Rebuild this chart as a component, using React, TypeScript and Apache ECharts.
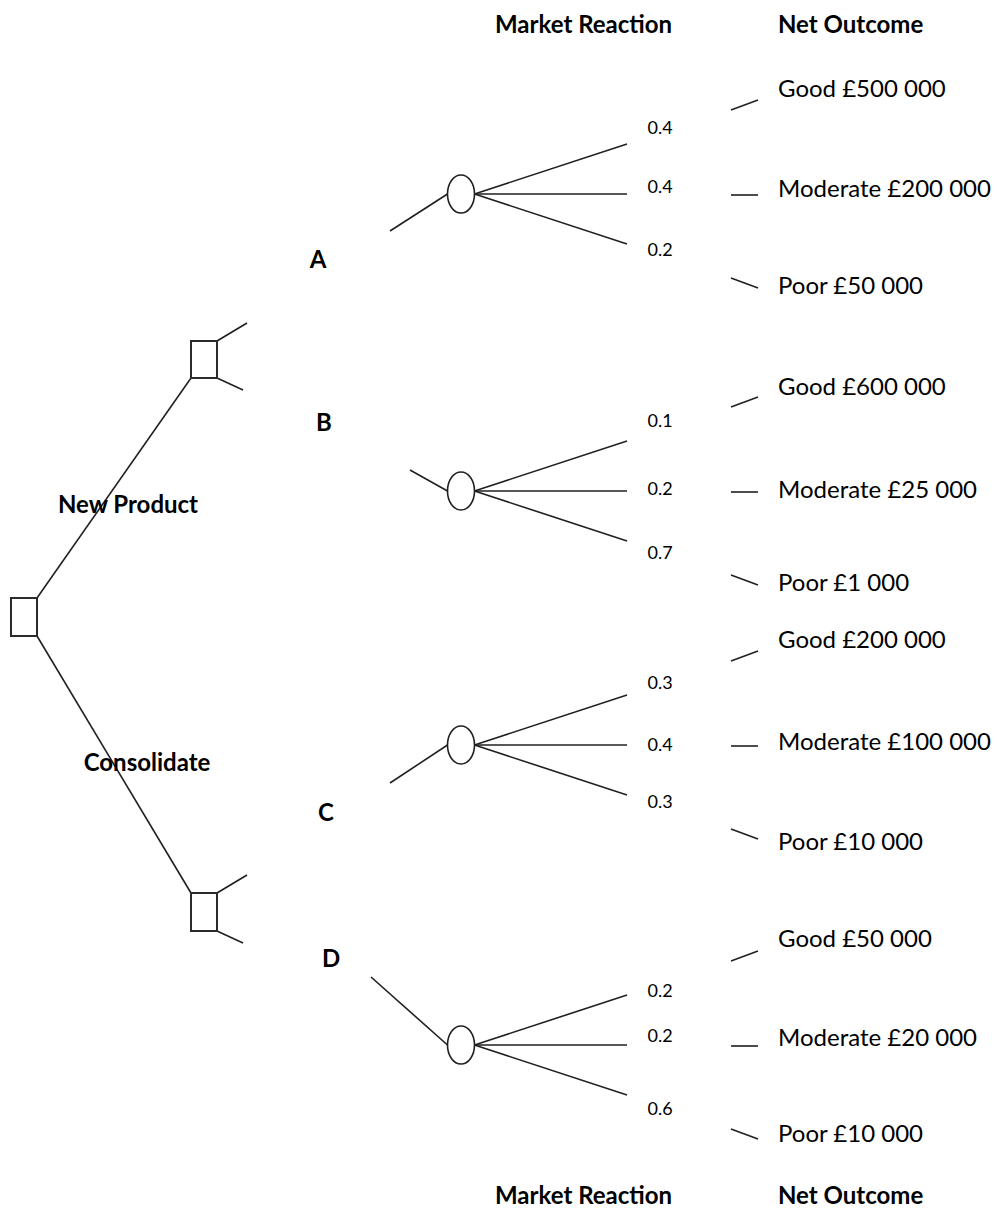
import React, { useEffect, useRef } from "react";
import * as echarts from "echarts";

// ---------------- data ----------------
const columnHeaders = ["Market Reaction", "Net Outcome"];
const decisions = ["New Product", "Consolidate"];
const options = ["A", "B", "C", "D"];
const reactions = ["Good", "Moderate", "Poor"];
const probA = [0.4, 0.4, 0.2];
const probB = [0.1, 0.2, 0.7];
const probC = [0.3, 0.4, 0.3];
const probD = [0.2, 0.2, 0.6];
const outcomeA = [500000, 200000, 50000];
const outcomeB = [600000, 25000, 1000];
const outcomeC = [200000, 100000, 10000];
const outcomeD = [50000, 20000, 10000];

const probabilities = [probA, probB, probC, probD];
const outcomes = [outcomeA, outcomeB, outcomeC, outcomeD];

// ---------------- layout (pixel-like axis units) ----------------
const W = 997;
const H = 1230;
const rootBox = [11, 598, 26, 38];
const decisionBoxes = [
  [191, 341, 26, 37],
  [191, 893, 26, 38],
];
const chanceX = 461;
const chanceRx = 13.5;
const chanceRy = 19;
const chanceY = [194, 491, 745, 1045];
const incomingStart = [
  [390, 231],
  [410, 470],
  [390, 783],
  [371, 977],
];
const branchEndX = 627;
const branchSpread = 50;
const stubX = [731, 758];
const stubOffsets = [
  [-84, -94],
  [1, 1],
  [84, 94],
];
const optionLabelPos = [
  [318, 258],
  [324, 421],
  [326, 811],
  [331, 957],
];
const decisionLabelPos = [
  [128, 503],
  [147, 761],
];
const probLabelX = 660;
const probLabelY = [
  [127, 186, 249],
  [420, 488, 552],
  [682, 744, 801],
  [990, 1035, 1108],
];
const outcomeLabelX = 778;
const outcomeLabelY = [
  [87, 187, 284],
  [385, 488, 581],
  [638, 740, 840],
  [937, 1036, 1132],
];
const headerX = [495, 778];
const headerY = [23, 1194];

const LINE = "#231f20";
const FONT = "Lato, 'Open Sans', sans-serif";

function money(v: number): string {
  const s = String(v);
  return "£" + s.replace(/\B(?=(\d{3})+(?!\d))/g, " ");
}

function buildOption() {
  // segments [x1, y1, x2, y2]
  const segs: number[][] = [];
  const [rx, ry, rw, rh] = rootBox;
  const [ux, uy, uw, uh] = decisionBoxes[0];
  const [lx, ly] = decisionBoxes[1];
  segs.push([rx + rw, ry, ux, uy + uh]);
  segs.push([rx + rw, ry + rh, lx, ly]);
  decisionBoxes.forEach(([bx, by, bw, bh]) => {
    segs.push([bx + bw, by, bx + bw + 30, by - 18]);
    segs.push([bx + bw, by + bh, bx + bw + 26, by + bh + 12]);
  });
  chanceY.forEach((cy, i) => {
    const [sx, sy] = incomingStart[i];
    segs.push([sx, sy, chanceX - chanceRx, cy]);
    for (let j = 0; j < 3; j++) {
      segs.push([chanceX + chanceRx, cy, branchEndX, cy + (j - 1) * branchSpread]);
      segs.push([stubX[0], cy + stubOffsets[j][0], stubX[1], cy + stubOffsets[j][1]]);
    }
  });

  const boxes = [rootBox, ...decisionBoxes];
  const ellipses = chanceY.map((cy) => [chanceX, cy]);

  type T = { x: number; y: number; text: string; font: string; align: string };
  const texts: T[] = [];
  columnHeaders.forEach((h, i) => {
    headerY.forEach((y) => texts.push({ x: headerX[i], y, text: h, font: `bold 24px ${FONT}`, align: "left" }));
  });
  decisions.forEach((d, i) =>
    texts.push({ x: decisionLabelPos[i][0], y: decisionLabelPos[i][1], text: d, font: `bold 24px ${FONT}`, align: "center" })
  );
  options.forEach((o, i) => {
    texts.push({ x: optionLabelPos[i][0], y: optionLabelPos[i][1], text: o, font: `bold 24px ${FONT}`, align: "center" });
    probabilities[i].forEach((p, j) =>
      texts.push({ x: probLabelX, y: probLabelY[i][j], text: p.toFixed(1), font: `18px ${FONT}`, align: "center" })
    );
    outcomes[i].forEach((v, j) =>
      texts.push({
        x: outcomeLabelX,
        y: outcomeLabelY[i][j],
        text: `${reactions[j]} ${money(v)}`,
        font: `24px ${FONT}`,
        align: "left",
      })
    );
  });

  return {
    animation: false,
    backgroundColor: "#ffffff",
    grid: { left: 0, right: 0, top: 0, bottom: 0 },
    xAxis: { type: "value", min: 0, max: W, show: false },
    yAxis: { type: "value", min: 0, max: H, inverse: true, show: false },
    series: [
      {
        type: "custom",
        silent: true,
        data: segs,
        encode: { x: [0, 2], y: [1, 3] },
        renderItem: (_p: any, api: any) => {
          const a = api.coord([api.value(0), api.value(1)]);
          const b = api.coord([api.value(2), api.value(3)]);
          return {
            type: "line",
            shape: { x1: a[0], y1: a[1], x2: b[0], y2: b[1] },
            style: { stroke: LINE, lineWidth: 1.6, fill: "none" },
          };
        },
      },
      {
        type: "custom",
        silent: true,
        data: boxes,
        encode: { x: 0, y: 1 },
        renderItem: (_p: any, api: any) => {
          const a = api.coord([api.value(0), api.value(1)]);
          const b = api.coord([api.value(0) + api.value(2), api.value(1) + api.value(3)]);
          return {
            type: "rect",
            shape: { x: a[0], y: a[1], width: b[0] - a[0], height: b[1] - a[1] },
            style: { stroke: "#2b2b2b", lineWidth: 2, fill: "#ffffff" },
          };
        },
      },
      {
        type: "custom",
        silent: true,
        data: ellipses,
        encode: { x: 0, y: 1 },
        renderItem: (_p: any, api: any) => {
          const c = api.coord([api.value(0), api.value(1)]);
          const e = api.coord([api.value(0) + chanceRx, api.value(1) + chanceRy]);
          return {
            type: "ellipse",
            shape: { cx: c[0], cy: c[1], rx: e[0] - c[0], ry: e[1] - c[1] },
            style: { stroke: LINE, lineWidth: 1.6, fill: "#ffffff" },
          };
        },
      },
      {
        type: "custom",
        silent: true,
        data: texts.map((t) => [t.x, t.y]),
        encode: { x: 0, y: 1 },
        renderItem: (p: any, api: any) => {
          const t = texts[p.dataIndex];
          const c = api.coord([api.value(0), api.value(1)]);
          return {
            type: "text",
            x: c[0],
            y: c[1],
            style: {
              text: t.text,
              font: t.font,
              fill: "#000000",
              align: t.align,
              verticalAlign: "middle",
              textAlign: t.align,
              textVerticalAlign: "middle",
            },
          };
        },
      },
    ],
  };
}

export default function App() {
  const ref = useRef<HTMLDivElement>(null);
  useEffect(() => {
    document.body.style.margin = "0";
    const chart = echarts.init(ref.current as HTMLDivElement, null, { renderer: "svg" });
    chart.setOption(buildOption() as any);
    return () => chart.dispose();
  }, []);
  return <div ref={ref} style={{ width: W, height: H, background: "#ffffff" }} />;
}
